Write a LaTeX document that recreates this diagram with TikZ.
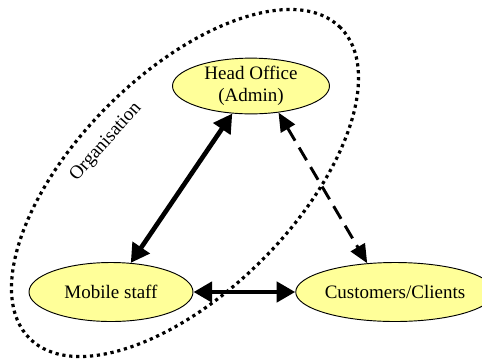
\documentclass[tikz,border=0pt]{standalone}
\usepackage{fontspec}
\setmainfont{Liberation Serif}
\usetikzlibrary{arrows.meta,shapes.geometric}
\definecolor{paleyellow}{RGB}{255,255,153}
\begin{document}
\begin{tikzpicture}[x=0.75pt,y=-0.75pt,
	every node/.style={font=\fontsize{14.25}{16.5}\selectfont},
	actor/.style={ellipse,draw,line width=0.7pt,fill=paleyellow,inner sep=0pt,align=center},
	link/.style={line width=3.5pt,{Triangle[length=14pt,width=15pt]}-{Triangle[length=14pt,width=15pt]}},
	maybe/.style={line width=2.2pt,dash pattern=on 11pt off 6pt,{Triangle[length=14pt,width=12pt]}-{Triangle[length=14pt,width=12pt]}}]
	\useasboundingbox (0,0) rectangle (482,362);
	% the organisation boundary
	\draw[line width=2.4pt,dash pattern=on 2.4pt off 2.8pt,rotate around={45:(185,183)}]
		(185,183) ellipse [x radius=164.85pt, y radius=81.75pt];
	\node[rotate=48.5] (org) at (106,142) {Organisation};
	% the three parties
	\node[actor,minimum width=117.75pt,minimum height=39.75pt] (head) at (251,86) {Head Office\\(Admin)};
	\node[actor,minimum width=123pt,minimum height=44.25pt] (mobile) at (111,292) {Mobile staff};
	\node[actor,minimum width=130.5pt,minimum height=44.25pt] (clients) at (395,292) {Customers/Clients};
	\draw[link] (head) -- (mobile);
	\draw[link] (mobile) -- (clients);
	\draw[maybe] (head.-44) -- (clients.134);
\end{tikzpicture}
\end{document}
